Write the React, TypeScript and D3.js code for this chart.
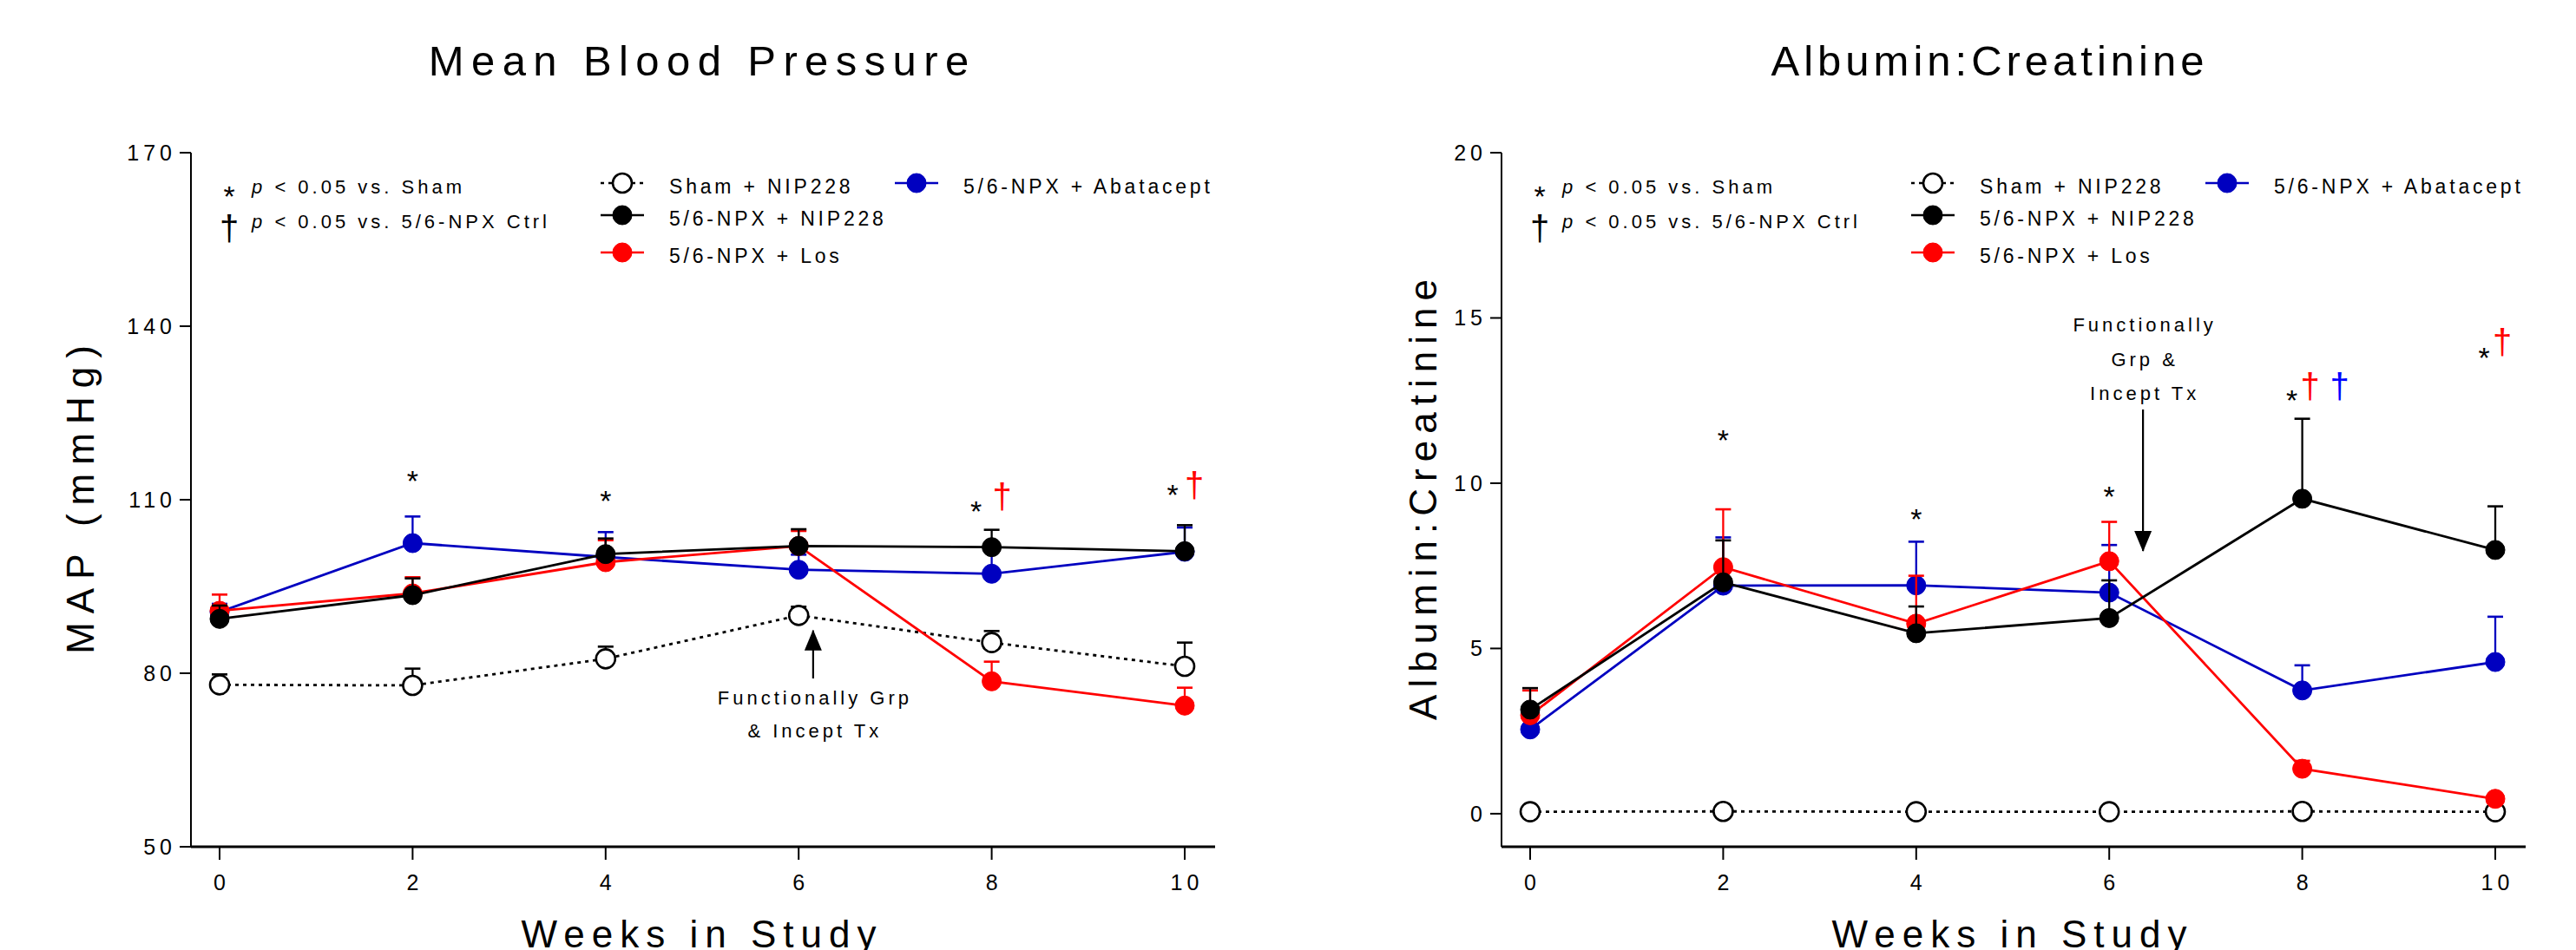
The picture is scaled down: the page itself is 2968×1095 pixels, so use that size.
import React from "react";
import * as d3 from "d3";

const W = 2968;
const H = 1095;
const FONT = "'Liberation Sans', Arial, Helvetica, sans-serif";

const weeks = [0, 2, 4, 6, 8, 10];

// Mean Blood Pressure (mmHg): mean and SEM per group
const mapSham = [78.0, 77.9, 82.5, 90.0, 85.3, 81.2];
const mapShamSem = [1.8, 2.9, 2.1, 1.5, 2.0, 4.1];
const mapNip = [89.4, 93.5, 100.6, 102.0, 101.8, 101.1];
const mapNipSem = [2.3, 2.9, 2.7, 2.9, 3.0, 4.5];
const mapLos = [90.8, 93.8, 99.2, 102.0, 78.6, 74.4];
const mapLosSem = [2.8, 2.8, 3.8, 2.6, 3.4, 3.1];
const mapAba = [90.6, 102.5, 100.1, 97.9, 97.2, 101.0];
const mapAbaSem = [1.4, 4.6, 4.3, 2.6, 4.3, 4.2];

// Albumin:Creatinine
const acrSham = [0.06, 0.07, 0.06, 0.06, 0.07, 0.06];
const acrShamSem = [0.03, 0.03, 0.03, 0.03, 0.03, 0.03];
const acrNip = [3.15, 7.0, 5.46, 5.92, 9.53, 7.98];
const acrNipSem = [0.65, 1.27, 0.81, 1.14, 2.42, 1.32];
const acrLos = [2.98, 7.46, 5.75, 7.64, 1.36, 0.45];
const acrLosSem = [0.75, 1.75, 1.45, 1.19, 0.24, 0.1];
const acrAba = [2.55, 6.9, 6.91, 6.69, 3.73, 4.59];
const acrAbaSem = [0.45, 1.46, 1.32, 1.44, 0.76, 1.37];

const groups = ["Sham + NIP228", "5/6-NPX + NIP228", "5/6-NPX + Los", "5/6-NPX + Abatacept"];
const colors = ["#000000", "#000000", "#ff0000", "#0000c0"];

const mapTicks = [50, 80, 110, 140, 170];
const acrTicks = [0, 5, 10, 15, 20];

// significance marks: [week, y value, dx px]
const mapStars = [[2, 114.3, 0], [4, 110.9, 0], [8, 109.1, -18], [10, 112.0, -14]];
const mapDaggers = [[8, 110.2, 12, "#ff0000"], [10, 112.1, 11, "#ff0000"]];
const acrStars = [[2, 11.5, 0], [4, 9.1, 0], [6, 9.8, 0], [8, 12.7, -12], [10, 14.0, -13]];
const acrDaggers = [[8, 12.85, 9, "#ff0000"], [8, 12.85, 43, "#0000ff"], [10, 14.2, 8, "#ff0000"]];

function SText({ x, y, size, ls = 0, anchor = "start", fill = "#000", children, transform }: any) {
  const shift = anchor === "middle" ? ls / 2 : anchor === "end" ? ls : 0;
  return (
    <text x={x + shift} y={y} fontSize={size} letterSpacing={ls} textAnchor={anchor}
      fill={fill} fontFamily={FONT} transform={transform}>
      {children}
    </text>
  );
}

function Star({ x, y }: any) {
  // y = visual centre of the asterisk
  return <text x={x} y={y + 19} fontSize={34} textAnchor="middle" fontFamily={FONT}>*</text>;
}

function Dagger({ x, y, color }: any) {
  return <text x={x} y={y + 11} fontSize={40} textAnchor="middle" fontFamily={FONT} fill={color}>†</text>;
}

function Marker({ cx, cy, i }: any) {
  const open = i === 0;
  return <circle cx={cx} cy={cy} r={11} fill={open ? "#fff" : colors[i]} stroke={colors[i]} strokeWidth={open ? 2.6 : 1} />;
}

function Panel({ left, yDomain, yTicks, title, titleLs, yTitle, yTitleOff, yTitleLs, means, sems, stars, daggers, arrow, titleDx }: any) {
  const x = d3.scaleLinear().domain([0, 10]).range([left + 33, left + 33 + 1112]);
  const y = d3.scaleLinear().domain(yDomain).range([976, 176]);
  const line = d3.line<number>().x((_, i) => x(weeks[i])).y(d => y(d));
  const order = [0, 3, 2, 1];

  return (
    <g>
      <SText x={left + titleDx} y={87} size={49} ls={titleLs} anchor="middle">{title}</SText>
      <SText x={0} y={0} size={44} ls={yTitleLs} anchor="middle"
        transform={`translate(${left - yTitleOff},${(176 + 976) / 2}) rotate(-90)`}>{yTitle}</SText>

      {/* y axis */}
      <line x1={left} x2={left} y1={176} y2={976} stroke="#000" strokeWidth={2} />
      {yTicks.map((t: number) => (
        <g key={t}>
          <line x1={left - 13} x2={left} y1={y(t)} y2={y(t)} stroke="#000" strokeWidth={2} />
          <SText x={left - 22} y={y(t) + 9} size={25} ls={5} anchor="end">{t}</SText>
        </g>
      ))}

      {/* x axis */}
      <line x1={left} x2={left + 1180} y1={976} y2={976} stroke="#000" strokeWidth={3} />
      {weeks.map(w => (
        <g key={w}>
          <line x1={x(w)} x2={x(w)} y1={976} y2={991} stroke="#000" strokeWidth={2} />
          <SText x={x(w)} y={1026} size={25} ls={5} anchor="middle">{w}</SText>
        </g>
      ))}
      <SText x={left + 585} y={1092} size={44} ls={8} anchor="middle">Weeks in Study</SText>

      {/* notes */}
      <Star x={left + 44} y={219} />
      <SText x={left + 70} y={223} size={22} ls={4}><tspan fontStyle="italic">p</tspan> {"<"} 0.05 vs. Sham</SText>
      <Dagger x={left + 44} y={266} color="#000" />
      <SText x={left + 70} y={263} size={22} ls={4}><tspan fontStyle="italic">p</tspan> {"<"} 0.05 vs. 5/6-NPX Ctrl</SText>

      {/* legend */}
      {[0, 1, 2, 3].map(i => {
        const mx = left + (i === 3 ? 836 : 497);
        const my = [211, 248, 291, 211][i];
        return (
          <g key={i}>
            <line x1={mx - 25} x2={mx + 25} y1={my} y2={my} stroke={colors[i]} strokeWidth={2.6}
              strokeDasharray={i === 0 ? "4 5" : undefined} />
            <Marker cx={mx} cy={my} i={i} />
            <SText x={mx + 54} y={my + 12} size={23} ls={3.8}>{groups[i]}</SText>
          </g>
        );
      })}

      {/* series */}
      {order.map(i => (
        <g key={i}>
          {means[i].map((m: number, k: number) => (
            <g key={k}>
              <line x1={x(weeks[k])} x2={x(weeks[k])} y1={y(m)} y2={y(m + sems[i][k])} stroke={colors[i]} strokeWidth={2.3} />
              <line x1={x(weeks[k]) - 9} x2={x(weeks[k]) + 9} y1={y(m + sems[i][k])} y2={y(m + sems[i][k])} stroke={colors[i]} strokeWidth={2.6} />
            </g>
          ))}
          <path d={line(means[i]) || ""} fill="none" stroke={colors[i]} strokeWidth={2.8}
            strokeDasharray={i === 0 ? "4 5" : undefined} />
          {means[i].map((m: number, k: number) => <Marker key={k} cx={x(weeks[k])} cy={y(m)} i={i} />)}
        </g>
      ))}

      {/* significance */}
      {stars.map((s: any, k: number) => <Star key={k} x={x(s[0]) + s[2]} y={y(s[1])} />)}
      {daggers.map((s: any, k: number) => <Dagger key={k} x={x(s[0]) + s[2]} y={y(s[1])} color={s[3]} />)}

      {/* treatment arrow */}
      <line x1={x(arrow.week)} x2={x(arrow.week)} y1={y(arrow.from)} y2={y(arrow.to)} stroke="#000" strokeWidth={2.2} />
      <path d={arrow.up
        ? `M${x(arrow.week)},${y(arrow.to) - 1} l-10,24 h20 z`
        : `M${x(arrow.week)},${y(arrow.to) + 1} l-10,-24 h20 z`} fill="#000" />
      {arrow.lines.map((t: string, k: number) => (
        <SText key={k} x={x(arrow.week)} y={y(arrow.textY[k])} size={22} ls={4} anchor="middle">{t}</SText>
      ))}
    </g>
  );
}

export default function App() {
  return (
    <svg width={W} height={H} style={{ position: "absolute", left: 0, top: 0, background: "#fff" }}>
      <rect width={W} height={H} fill="#fff" />
      <Panel left={220} yDomain={[50, 170]} yTicks={mapTicks} title="Mean Blood Pressure" titleDx={585} titleLs={8.4}
        yTitle="MAP (mmHg)" yTitleOff={112} yTitleLs={10}
        means={[mapSham, mapNip, mapLos, mapAba]} sems={[mapShamSem, mapNipSem, mapLosSem, mapAbaSem]}
        stars={mapStars} daggers={mapDaggers}
        arrow={{ week: 6.15, from: 79.1, to: 87.4, up: true, lines: ["Functionally Grp", "& Incept Tx"], textY: [74.6, 68.9] }} />
      <Panel left={1730} yDomain={[-1, 20]} yTicks={acrTicks} title="Albumin:Creatinine" titleDx={560} titleLs={5}
        yTitle="Albumin:Creatinine" yTitleOff={75} yTitleLs={8}
        means={[acrSham, acrNip, acrLos, acrAba]} sems={[acrShamSem, acrNipSem, acrLosSem, acrAbaSem]}
        stars={acrStars} daggers={acrDaggers}
        arrow={{ week: 6.35, from: 12.23, to: 7.95, up: false, lines: ["Functionally", "Grp &", "Incept Tx"], textY: [14.58, 13.55, 12.53] }} />
    </svg>
  );
}
